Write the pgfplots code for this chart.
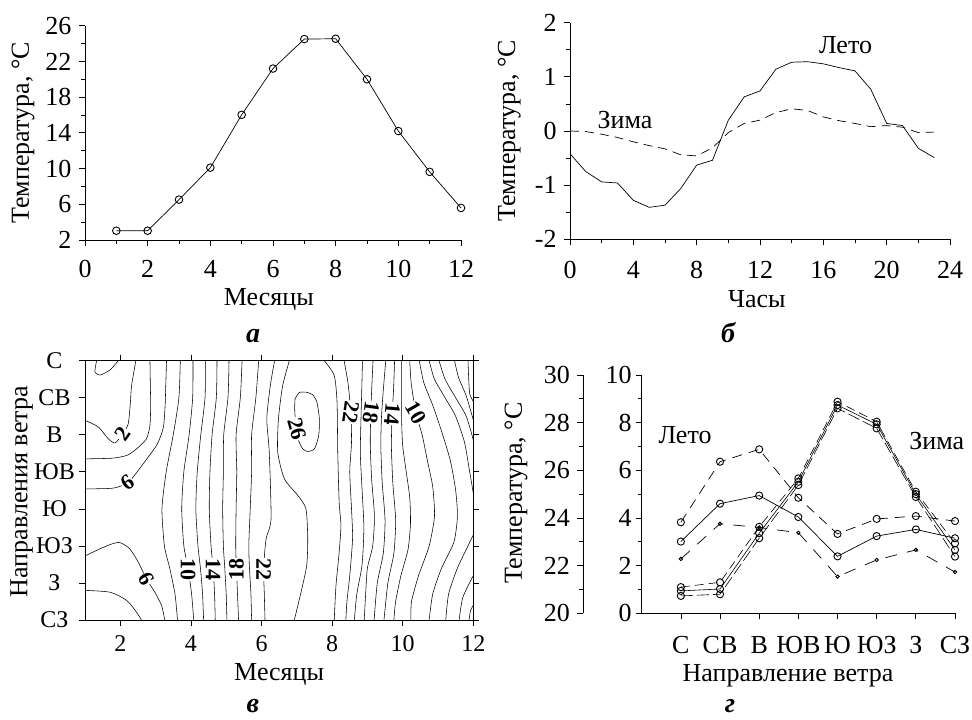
\documentclass[border=0pt]{standalone}
\usepackage{fontspec}
\setmainfont{Liberation Serif}
\usepackage{pgfplots}
\pgfplotsset{compat=1.18}
\pgfplotsset{
  base/.style={scale only axis, anchor=south west, clip=false, tick align=outside,
    axis line style={line width=0.7pt},
    tick style={black, line width=0.7pt},
    major tick length=6pt, minor tick length=4pt,
    xticklabel style={anchor=base, inner sep=0pt},
    yticklabel style={anchor=east, inner sep=0pt},
    xlabel style={anchor=base, inner sep=0pt},
    ylabel style={anchor=center, inner sep=0pt}},
  cl/.style={black, line width=0.55pt, smooth, tension=0.4},
}
\tikzset{lab/.style={fill=white, inner sep=0.5pt, font=\fontsize{22}{24}\selectfont\bfseries}}
\begin{document}
\fontsize{26}{31}\selectfont
\begin{tikzpicture}
\useasboundingbox (0pt,0pt) rectangle (972pt,720pt);

% ---------------- panel a ----------------
\begin{axis}[base, at={(85pt,480pt)}, width=376pt, height=214.3pt,
  xmin=0, xmax=12, ymin=2, ymax=26, axis lines*=left,
  xtick={0,2,...,12}, minor xtick={1,3,...,11},
  ytick={2,6,...,26}, minor ytick={4,8,...,24},
  xticklabels={0,2,4,6,8,10,12}, yticklabels={2,6,10,14,18,22,26},
  xticklabel style={yshift=-32pt}, yticklabel style={xshift=-7.3pt},
  xlabel={Месяцы}, ylabel={Температура, °C},
  xlabel style={at={(axis description cs:0.489,-0.308)}},
  ylabel style={at={(axis description cs:-0.165,0.5)}}]
\addplot[black, line width=0.7pt, mark=o, mark size=3.8pt, mark options={solid, line width=0.9pt}]
 coordinates {(1,3.04)(2,3.04)(3,6.52)(4,10.1)(5,16.02)(6,21.2)(7,24.5)(8,24.54)(9,20.0)(10,14.2)(11,9.63)(12,5.59)};
\end{axis}
\node[anchor=base, font=\fontsize{28}{30}\selectfont\bfseries\itshape] at (253pt,377pt) {а};

% ---------------- panel b ----------------
\begin{axis}[base, at={(570pt,480.7pt)}, width=380pt, height=216.6pt,
  xmin=0, xmax=24, ymin=-2, ymax=2, axis lines*=left,
  xtick={0,4,...,24}, minor xtick={2,6,...,22},
  ytick={-2,-1,0,1,2}, minor ytick={-1.5,-0.5,0.5,1.5},
  xticklabels={0,4,8,12,16,20,24}, yticklabels={-2,-1,0,1,2},
  xticklabel style={yshift=-33pt}, yticklabel style={xshift=-7.3pt},
  xlabel={Часы}, ylabel={Температура, °C},
  xlabel style={at={(axis description cs:0.492,-0.3126)}},
  ylabel style={at={(axis description cs:-0.16,0.5)}}]
\addplot[black, line width=0.7pt] coordinates {
(0,-0.42)(1,-0.75)(2,-0.94)(3,-0.96)(4,-1.28)(5,-1.41)(6,-1.37)(7,-1.06)(8,-0.63)(9,-0.54)(10,0.20)(11,0.63)
(12,0.74)(13,1.14)(14,1.27)(15,1.28)(16,1.24)(17,1.17)(18,1.11)(19,0.77)(20,0.14)(21,0.10)(22,-0.32)(23,-0.49)};
\addplot[black, line width=0.7pt, dash pattern=on 9pt off 6pt] coordinates {
(0,0.0)(1,-0.01)(2,-0.06)(3,-0.12)(4,-0.20)(5,-0.27)(6,-0.33)(7,-0.44)(8,-0.46)(9,-0.31)(10,-0.03)(11,0.14)
(12,0.20)(13,0.34)(14,0.41)(15,0.38)(16,0.26)(17,0.19)(18,0.14)(19,0.08)(20,0.10)(21,0.07)(22,-0.03)(23,-0.02)};
\end{axis}
\node[anchor=base] at (845.5pt,666.7pt) {Лето};
\node[anchor=base] at (625pt,591.7pt) {Зима};
\node[anchor=base, font=\fontsize{28}{30}\selectfont\bfseries\itshape] at (728pt,377pt) {б};

% ---------------- panel v (contours) ----------------
\begin{axis}[base, clip=true, at={(85pt,100pt)}, width=388.3pt, height=259.3pt,
  xmin=1, xmax=12, ymin=0, ymax=7, y dir=reverse,
  xtick={2,4,...,12}, xticklabels={2,4,6,8,10,12},
  ytick={0,...,7}, yticklabels={С,СВ,В,ЮВ,Ю,ЮЗ,З,СЗ},
  ticklabel style={font=\fontsize{24}{28}\selectfont},
  xticklabel style={yshift=-25.7pt}, yticklabel style={anchor=center, xshift=-24.5pt},
  xlabel={Месяцы}, ylabel={Направления ветра},
  xlabel style={at={(axis description cs:0.5,-0.2314)}},
  ylabel style={at={(axis description cs:-0.163,0.495)}}]
% left side
\addplot[cl] coordinates {(1.33,0)(1.28,0.3)(1.42,0.39)(1.71,0.25)(1.94,0)};
\addplot[cl] coordinates {(1,1.61)(1.38,1.79)(1.66,2.11)(1.85,2.22)(2.05,2.0)(2.22,1.72)(2.28,1.2)(2.32,0.67)(2.44,0)};
\addplot[cl] coordinates {(1,2.65)(1.8,2.63)(2.2,2.55)(2.46,2.38)(2.74,2.11)(2.84,1.75)(2.86,1.2)(2.85,0.6)(2.84,0)};
\addplot[cl] coordinates {(1,3.46)(1.8,3.44)(2.22,3.29)(2.51,2.96)(2.79,2.6)(3.05,2.25)(3.22,1.8)(3.27,1.2)(3.29,0.6)(3.31,0)};
\addplot[cl] coordinates {(1,5.27)(1.42,5.08)(1.75,4.95)(1.99,4.91)(2.27,5.08)(2.51,5.44)(2.74,5.89)(2.98,6.25)(3.17,6.61)(3.26,7)};
\addplot[cl] coordinates {(1,6.2)(1.71,6.25)(2.18,6.47)(2.46,6.79)(2.6,7)};
% rising bundle
\addplot[cl] coordinates {(3.70,0)(3.66,1)(3.50,2)(3.30,3)(3.18,4)(3.25,5)(3.40,5.6)(3.55,6.3)(3.62,7)};
\addplot[cl] coordinates {(4.06,0)(4.05,1)(3.95,2)(3.80,3)(3.74,4)(3.80,5)(3.92,5.6)(4.02,6.3)(4.08,7)};
\addplot[cl] coordinates {(4.41,0)(4.40,1)(4.28,2)(4.18,3)(4.14,4)(4.20,5)(4.27,5.6)(4.33,6.3)(4.36,7)};
\addplot[cl] coordinates {(4.74,0)(4.72,1)(4.60,2)(4.54,3)(4.52,4)(4.57,5)(4.63,5.6)(4.67,6.3)(4.69,7)};
\addplot[cl] coordinates {(5.08,0)(5.05,1)(4.93,2)(4.92,3)(4.90,4)(4.92,5)(4.96,5.6)(5.00,6.3)(5.02,7)};
\addplot[cl] coordinates {(5.45,0)(5.40,1)(5.28,2)(5.30,3)(5.28,4)(5.27,5)(5.29,5.6)(5.32,6.3)(5.35,7)};
\addplot[cl] coordinates {(5.92,0)(5.84,1)(5.72,2)(5.72,3)(5.68,4)(5.64,5)(5.66,5.6)(5.70,6.3)(5.72,7)};
\addplot[cl] coordinates {(6.37,0)(6.25,0.67)(6.15,1.57)(6.22,2.47)(6.27,4.27)(6.13,4.81)(6.06,5.6)(6.08,6.3)(6.10,7)};
\addplot[cl] coordinates {(6.79,0)(6.6,0.67)(6.48,1.57)(6.46,2.47)(6.65,3.19)(7.03,3.64)(7.26,4.0)(7.31,4.81)(7.28,5.53)(7.12,6.25)(6.93,7)};
\addplot[cl] coordinates {(6.95,1.03)(7.07,0.86)(7.26,0.85)(7.45,0.92)(7.57,1.12)(7.64,1.57)(7.62,2.02)(7.5,2.38)(7.31,2.45)(7.17,2.38)(7.05,2.15)(6.97,1.7)(6.94,1.3)(6.95,1.03)};
% falling side
\addplot[cl] coordinates {(7.78,0)(8.06,0.4)(8.14,1.12)(8.16,2.47)(8.2,3.82)(8.25,4.45)(8.2,5.17)(8.11,6.07)(8.06,7)};
\addplot[cl] coordinates {(8.34,0)(8.45,0.6)(8.53,1.39)(8.55,2.2)(8.5,3)(8.55,4)(8.58,4.8)(8.5,5.8)(8.42,6.5)(8.39,7)};
\addplot[cl] coordinates {(8.86,0)(8.84,0.8)(8.82,1.5)(8.8,2.5)(8.85,3.5)(8.9,4.5)(8.85,5.5)(8.7,6.3)(8.63,7)};
\addplot[cl] coordinates {(9.16,0)(9.12,0.8)(9.1,1.39)(9.08,2.2)(9.12,3.2)(9.2,4.2)(9.15,5.0)(9.0,5.6)(8.95,6.3)(8.91,7)};
\addplot[cl] coordinates {(9.52,0)(9.45,0.8)(9.4,1.5)(9.38,2.3)(9.42,3.3)(9.5,4.3)(9.45,5.2)(9.28,6)(9.19,7)};
\addplot[cl] coordinates {(9.77,0)(9.74,0.8)(9.7,1.43)(9.68,2.3)(9.72,3.3)(9.8,4.3)(9.75,5.2)(9.58,6.0)(9.47,7)};
\addplot[cl] coordinates {(9.97,0)(9.97,0.8)(9.97,1.6)(10.0,2.3)(10.1,3.0)(10.2,3.7)(10.22,4.4)(10.15,5.1)(9.95,5.8)(9.8,6.5)(9.75,7)};
\addplot[cl] coordinates {(10.2,0)(10.24,0.6)(10.37,1.4)(10.55,2.0)(10.7,2.7)(10.85,3.4)(10.9,4.2)(10.75,5.0)(10.45,5.8)(10.25,6.5)(10.23,7)};
\addplot[cl] coordinates {(10.47,0)(10.6,0.6)(10.85,1.2)(11.1,1.9)(11.35,2.7)(11.5,3.5)(11.55,4.2)(11.45,4.9)(11.1,5.6)(10.85,6.3)(10.75,7)};
\addplot[cl] coordinates {(10.75,0)(10.9,0.5)(11.2,1.0)(11.5,1.5)(11.75,2.2)(11.88,2.9)(12,3.58)};
\addplot[cl] coordinates {(11.03,0)(11.2,0.5)(11.5,1.0)(11.8,1.5)(12,2.14)};
\addplot[cl] coordinates {(11.47,0)(11.58,0.45)(11.8,0.95)(12,1.6)};
\addplot[cl] coordinates {(11.85,0)(11.87,0.5)(11.9,0.9)(12,1.1)};
\addplot[cl] coordinates {(11.22,7)(11.3,6.3)(11.55,5.6)(11.85,5.0)(12,4.7)};
\addplot[cl] coordinates {(11.6,7)(11.7,6.4)(12,5.8)};
\addplot[cl] coordinates {(11.88,7)(11.92,6.75)(12,6.6)};
% labels
\node[lab, rotate=55] at (axis cs:2.06,1.98) {2};
\node[lab, rotate=35] at (axis cs:2.2,3.3) {6};
\node[lab, rotate=-61] at (axis cs:2.74,5.89) {6};
\node[lab, rotate=-90] at (axis cs:3.92,5.65) {10};
\node[lab, rotate=-90] at (axis cs:4.63,5.65) {14};
\node[lab, rotate=90] at (axis cs:5.29,5.65) {18};
\node[lab, rotate=-90] at (axis cs:6.06,5.65) {22};
\node[lab, rotate=-75] at (axis cs:7.0,1.84) {26};
\node[lab, rotate=-98] at (axis cs:8.53,1.39) {22};
\node[lab, rotate=-98] at (axis cs:9.1,1.39) {18};
\node[lab, rotate=-95] at (axis cs:9.7,1.43) {14};
\node[lab, rotate=-60] at (axis cs:10.37,1.4) {10};
\end{axis}
\node[anchor=base, font=\fontsize{28}{30}\selectfont\bfseries\itshape] at (253pt,7pt) {в};

% ---------------- panel g ----------------
\begin{axis}[base, at={(583.3pt,106.7pt)}, width=371.7pt, height=238.3pt,
  xmin=-1.491, xmax=8, ymin=20, ymax=30,
  axis y line*=left, axis x line=none,
  ytick={20,22,...,30}, minor ytick={21,23,...,29},
  yticklabels={20,22,24,26,28,30}, yticklabel style={xshift=-7.3pt},
  ylabel={Температура, °C},
  ylabel style={at={(axis description cs:-0.181,0.504)}}]
\addplot[black, line width=0.7pt, dash pattern=on 10pt off 7pt, mark=o, mark size=3.6pt, mark options={solid, line width=0.9pt}]
 coordinates {(1,23.82)(2,26.36)(3,26.88)(4,24.85)(5,23.33)(6,23.96)(7,24.08)(8,23.87)};
\addplot[black, line width=0.7pt, mark=o, mark size=3.6pt, mark options={solid, line width=0.9pt}]
 coordinates {(1,23.01)(2,24.60)(3,24.94)(4,24.04)(5,22.39)(6,23.24)(7,23.52)(8,23.15)};
\addplot[black, line width=0.7pt, dash pattern=on 12pt off 10pt, mark=o, mark size=1.7pt, mark options={solid, line width=0.9pt}]
 coordinates {(1,22.28)(2,23.76)(3,23.60)(4,23.38)(5,21.54)(6,22.24)(7,22.66)(8,21.73)};
\end{axis}
\begin{axis}[base, at={(641.7pt,106.7pt)}, width=313.3pt, height=238.3pt,
  xmin=0, xmax=8, ymin=0, ymax=10, axis lines*=left,
  xtick={1,...,8}, xticklabels={С,СВ,В,ЮВ,Ю,ЮЗ,З,СЗ},
  ytick={0,2,...,10}, minor ytick={1,3,...,9}, yticklabels={0,2,4,6,8,10},
  xticklabel style={yshift=-34pt}, yticklabel style={xshift=-4pt},
  xlabel={Направление ветра},
  xlabel style={at={(axis description cs:0.467,-0.287)}}]
\addplot[black, line width=0.6pt, dash pattern=on 9pt off 5pt, mark=o, mark size=3.6pt, mark options={solid, line width=0.9pt}]
 coordinates {(1,1.10)(2,1.30)(3,3.63)(4,5.66)(5,8.88)(6,8.04)(7,5.10)(8,2.94)};
\addplot[black, line width=0.6pt, mark=o, mark size=3.6pt, mark options={solid, line width=0.9pt}]
 coordinates {(1,0.94)(2,1.02)(3,3.36)(4,5.52)(5,8.74)(6,7.93)(7,5.00)(8,2.66)};
\addplot[black, line width=0.6pt, dash pattern=on 12pt off 4pt, mark=o, mark size=3.6pt, mark options={solid, line width=0.9pt}]
 coordinates {(1,0.73)(2,0.80)(3,3.15)(4,5.38)(5,8.60)(6,7.76)(7,4.88)(8,2.38)};
\end{axis}
\node[anchor=base] at (685pt,276.7pt) {Лето};
\node[anchor=base] at (936.7pt,270pt) {Зима};
\node[anchor=base, font=\fontsize{28}{30}\selectfont\bfseries\itshape] at (730pt,7pt) {г};
\end{tikzpicture}
\end{document}
